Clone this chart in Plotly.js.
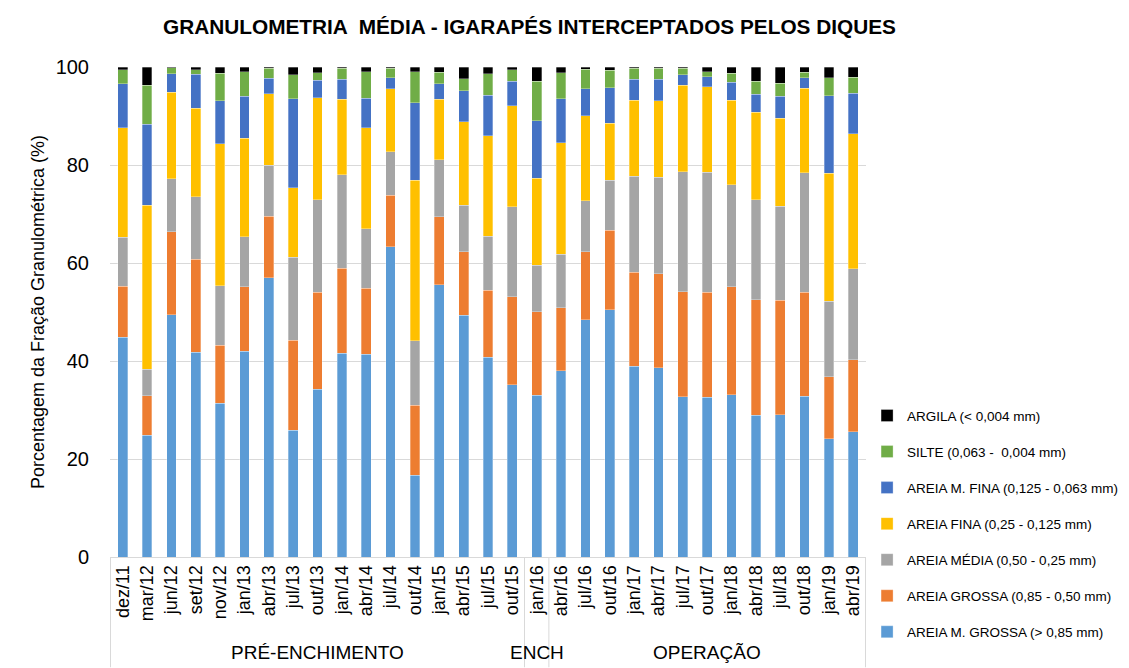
<!DOCTYPE html>
<html>
<head>
<meta charset="utf-8">
<script src="https://cdn.plot.ly/plotly-3.0.1.min.js"></script>
<style>html,body{margin:0;padding:0;background:#fff;}#chart{width:1129px;height:668px;}</style>
</head>
<body>
<div id="chart"></div>
<script>
const categories = ["dez/11","mar/12","jun/12","set/12","nov/12","jan/13","abr/13","jul/13","out/13","jan/14","abr/14","jul/14","out/14","jan/15","abr/15","jul/15","out/15","jan/16","abr/16","jul/16","out/16","jan/17","abr/17","jul/17","out/17","jan/18","abr/18","jul/18","out/18","jan/19","abr/19"];

const areiaMGrossa = [44.8,24.8,49.4,41.8,31.4,42.0,57.0,25.9,34.2,41.6,41.4,63.3,16.7,55.6,49.3,40.8,35.2,33.0,38.0,48.4,50.5,38.9,38.6,32.7,32.6,33.1,28.9,29.0,32.8,24.1,25.6];
const areiaGrossa  = [10.5,8.1,17.0,19.0,11.8,13.2,12.5,18.3,19.8,17.3,13.4,10.5,14.3,13.8,13.0,13.6,17.9,17.1,12.9,13.9,16.2,19.2,19.2,21.4,21.4,22.1,23.6,23.4,21.2,12.7,14.7];
const areiaMedia   = [10.0,5.4,10.8,12.7,12.2,10.2,10.4,17.0,18.9,19.1,12.2,8.9,13.1,11.7,9.5,11.1,18.4,9.4,10.9,10.4,10.2,19.6,19.7,24.5,24.5,20.8,20.4,19.2,24.4,15.4,18.5];
const areiaFina    = [22.3,33.5,17.6,18.1,28.9,20.1,14.6,14.2,20.8,15.4,20.6,12.9,32.8,12.3,17.0,20.5,20.6,17.8,22.7,17.4,11.6,15.5,15.6,17.7,17.5,17.2,17.9,17.9,17.3,26.1,27.6];
const areiaMFina   = [9.0,16.5,3.8,6.9,8.8,8.5,3.2,18.1,3.6,4.1,6.0,2.2,15.8,3.2,6.4,8.2,5.0,11.7,9.0,5.5,7.3,4.3,4.4,2.1,2.0,3.7,3.6,4.5,2.1,15.8,8.2];
const silte        = [2.8,8.0,1.2,0.9,5.6,5.0,2.0,4.9,1.5,2.2,5.4,1.9,6.3,2.3,2.4,4.4,2.3,8.1,5.3,3.9,3.5,2.2,2.2,1.3,1.0,1.8,2.7,2.7,1.1,3.7,3.3];
const argila       = [0.6,3.7,0.2,0.6,1.3,1.0,0.3,1.6,1.2,0.3,1.0,0.3,1.0,1.1,2.4,1.4,0.6,2.9,1.2,0.5,0.7,0.3,0.3,0.3,1.0,1.3,2.9,3.3,1.1,2.2,2.1];

const seriesNames = ["AREIA M. GROSSA (> 0,85 mm)","AREIA GROSSA (0,85 - 0,50 mm)","AREIA MÉDIA (0,50 - 0,25 mm)","AREIA FINA (0,25 - 0,125 mm)","AREIA M. FINA (0,125 - 0,063 mm)","SILTE (0,063 -  0,004 mm)","ARGILA (< 0,004 mm)"];
const seriesValues = [areiaMGrossa, areiaGrossa, areiaMedia, areiaFina, areiaMFina, silte, argila];
const seriesColors = ["#5B9BD5","#ED7D31","#A5A5A5","#FFC000","#4472C4","#70AD47","#000000"];

const groupLabels = ["PRÉ-ENCHIMENTO","ENCH","OPERAÇÃO"];
const groupStarts = [0, 17, 18];
const groupEnds   = [16, 17, 30];

const traces = seriesNames.map((n, i) => ({
  type: 'bar',
  name: n,
  x: categories,
  y: seriesValues[i],
  marker: {color: seriesColors[i], line: {color: 'rgba(255,255,255,0.6)', width: 0.5}},
  legendgroup: 'g' + i,
  legendrank: 1000 - i,
  hoverinfo: 'x+y+name'
}));

const shapes = [];
const bounds = [groupStarts[0] - 0.5].concat(groupEnds.map(e => e + 0.5));
bounds.forEach(b => shapes.push({
  type: 'line', xref: 'x', yref: 'paper', x0: b, x1: b, y0: 0, y1: -0.225,
  line: {color: '#d9d9d9', width: 1}
}));

const annotations = groupLabels.map((g, i) => ({
  text: g, xref: 'x', yref: 'paper',
  x: (groupStarts[i] + groupEnds[i]) / 2, y: -0.194,
  xanchor: 'center', yanchor: 'middle', showarrow: false,
  font: {family: 'Liberation Sans, Arial, sans-serif', size: 19, color: '#000'}
}));

const layout = {
  width: 1129, height: 668,
  margin: {l: 110, r: 263, t: 67, b: 111},
  paper_bgcolor: '#fff', plot_bgcolor: '#fff',
  barmode: 'stack', bargap: 0.6,
  font: {family: 'Liberation Sans, Arial, sans-serif', color: '#000'},
  title: {
    text: 'GRANULOMETRIA  MÉDIA - IGARAPÉS INTERCEPTADOS PELOS DIQUES',
    font: {family: 'Liberation Sans, Arial, sans-serif', size: 20.8, color: '#000', weight: 'bold'},
    x: 0.469, xanchor: 'center', y: 0.96, yanchor: 'middle', xref: 'container'
  },
  xaxis: {
    type: 'category', tickangle: -90,
    tickfont: {size: 18, color: '#000'},
    showline: true, linecolor: '#d9d9d9', linewidth: 1,
    ticks: '', showgrid: false, automargin: false
  },
  yaxis: {
    range: [0, 100], dtick: 20, tickfont: {size: 20, color: '#000'},
    showgrid: true, gridcolor: '#d9d9d9', gridwidth: 1,
    zeroline: false, showline: false, ticks: 'outside', ticklen: 16, tickcolor: 'rgba(0,0,0,0)',
    automargin: false,
    title: {text: 'Porcentagem da Fração Granulométrica (%)', font: {size: 18, color: '#000'}, standoff: 6}
  },
  legend: {
    traceorder: 'grouped', tracegroupgap: 15.5,
    xref: 'container', yref: 'container',
    x: 0.768, xanchor: 'left', y: 0.216, yanchor: 'middle',
    font: {size: 13.5, color: '#000'}, bgcolor: 'rgba(0,0,0,0)'
  },
  shapes: shapes,
  annotations: annotations
};

Plotly.newPlot('chart', traces, layout, {displayModeBar: false, staticPlot: true});
</script>
</body>
</html>
